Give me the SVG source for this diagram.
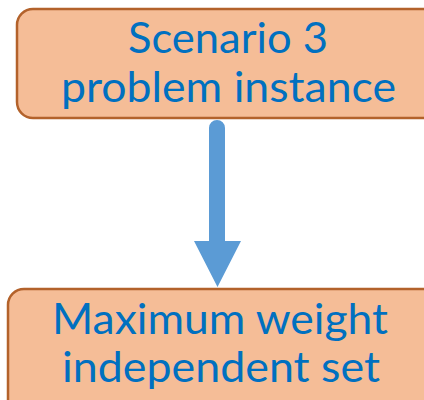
<svg xmlns="http://www.w3.org/2000/svg" width="424" height="400" viewBox="0 0 424 400">
  <style>
    .box { fill: #F5BD97; stroke: #B3622B; stroke-width: 2.5; }
    .label { font-family: Lato, "Liberation Sans", sans-serif; font-size: 43px; fill: #0070C0; text-anchor: middle; }
    .flow { fill: #5B9BD5; }
  </style>
  <rect width="424" height="400" fill="#FFFFFF"/>

  <g id="scenario">
    <rect class="box" x="17" y="9" width="440" height="109" rx="16" ry="16"/>
    <text class="label" x="228" y="53" textLength="200" lengthAdjust="spacingAndGlyphs">Scenario 3</text>
    <text class="label" x="228.5" y="102" textLength="335" lengthAdjust="spacingAndGlyphs">problem instance</text>
  </g>

  <g id="mwis">
    <rect class="box" x="8" y="289" width="450" height="140" rx="16" ry="16"/>
    <text class="label" x="220" y="334" textLength="336" lengthAdjust="spacingAndGlyphs">Maximum weight</text>
    <text class="label" x="221" y="382" textLength="318" lengthAdjust="spacingAndGlyphs">independent set</text>
  </g>

  <g id="connectors">
    <path class="flow" d="M209 128 A8 8 0 0 1 225 128 L225 241 L241 241 L217.5 287 L194 241 L209 241 Z"/>
  </g>
</svg>
